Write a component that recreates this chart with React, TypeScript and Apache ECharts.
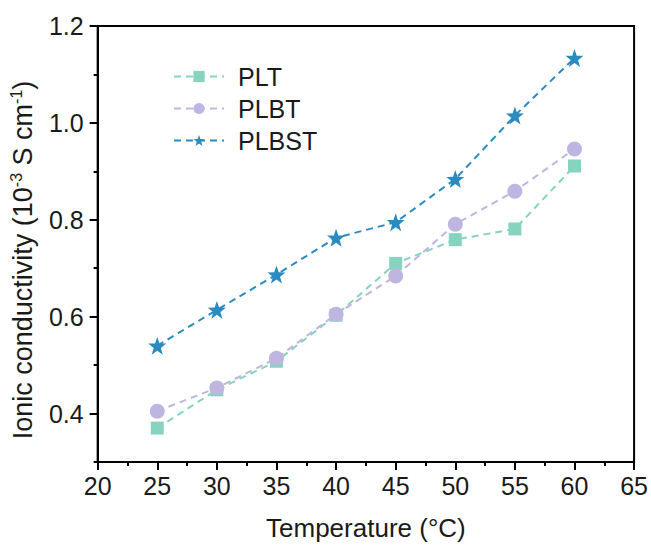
import React, { useEffect, useRef } from "react";
import * as echarts from "echarts";

const temperatures = [25, 30, 35, 40, 45, 50, 55, 60];
const pltValues = [0.37, 0.449, 0.508, 0.603, 0.71, 0.759, 0.781, 0.911];
const plbtValues = [0.405, 0.453, 0.514, 0.605, 0.684, 0.791, 0.859, 0.946];
const plbstValues = [0.54, 0.614, 0.687, 0.763, 0.795, 0.884, 1.015, 1.134];
const seriesNames = ["PLT", "PLBT", "PLBST"];
const yMajorTicks = [0.4, 0.6, 0.8, 1.0, 1.2];

const STAR =
  "path://M100 0 L123.5 67.6 L195.1 69.1 L138 112.4 L158.8 180.9 L100 140 L41.2 180.9 L62 112.4 L4.9 69.1 L76.5 67.6 Z";

const FONT = "'Liberation Sans', Arial, sans-serif";
const TEXT = "#1a1a1a";

export default function App() {
  const ref = useRef<HTMLDivElement>(null);
  useEffect(() => {
    if (!ref.current) return;
    const chart = echarts.init(ref.current, null, { renderer: "svg" });
    const pair = (vals: number[]) => temperatures.map((t, i) => [t, vals[i]]);
    const lineSeries = (name: string, vals: number[], color: string, symbol: string, size: number) => ({
      name,
      type: "line",
      data: pair(vals),
      symbol,
      symbolSize: size,
      showSymbol: true,
      itemStyle: { color, opacity: 1 },
      lineStyle: { color, width: 2, type: [7, 5] },
      z: 3,
    });
    chart.setOption({
      animation: false,
      textStyle: { fontFamily: FONT },
      grid: {
        left: 97,
        right: 15,
        top: 26,
        bottom: 85,
        show: true,
        borderColor: "#000",
        borderWidth: 2,
      },
      legend: {
        orient: "vertical",
        left: 168,
        top: 59,
        itemWidth: 50,
        itemHeight: 14,
        itemGap: 7,
        data: seriesNames,
        textStyle: {
          fontSize: 25,
          color: TEXT,
          fontFamily: FONT,
          padding: [0, 0, 0, 9],
        },
      },
      xAxis: {
        type: "value",
        min: 20,
        max: 65,
        interval: 5,
        name: "Temperature (°C)",
        nameLocation: "middle",
        nameGap: 53,
        nameTextStyle: { fontSize: 26, color: TEXT, fontFamily: FONT },
        axisLine: { show: true, onZero: false, lineStyle: { color: "#000", width: 2 } },
        axisTick: { show: true, inside: false, length: 8, lineStyle: { color: "#000", width: 2 } },
        minorTick: { show: true, splitNumber: 2, length: 4, lineStyle: { color: "#000", width: 2 } },
        axisLabel: { fontSize: 25, color: TEXT, margin: 11, fontFamily: FONT },
        splitLine: { show: false },
      },
      yAxis: [
        {
          type: "value",
          min: 0.3,
          max: 1.2,
          interval: 0.1,
          name: "Ionic conductivity (10{sup|-3} S cm{sup|-1})",
          nameLocation: "middle",
          nameGap: 56,
          nameTextStyle: {
            fontSize: 27,
            color: TEXT,
            fontFamily: FONT,
            lineHeight: 30,
            padding: [0, 32, 0, 0],
            rich: {
              sup: { fontSize: 16, lineHeight: 17, verticalAlign: "top", color: TEXT, fontFamily: FONT },
            },
          },
          axisLine: { show: true, onZero: false, lineStyle: { color: "#000", width: 2 } },
          axisTick: {
            show: true,
            inside: false,
            length: 8,
            customValues: yMajorTicks,
            lineStyle: { color: "#000", width: 2 },
          },
          axisLabel: {
            fontSize: 25,
            color: TEXT,
            margin: 14,
            fontFamily: FONT,
            customValues: yMajorTicks,
            formatter: (v: number) => v.toFixed(1),
          },
          splitLine: { show: false },
        },
        {
          type: "value",
          min: 0.3,
          max: 1.2,
          interval: 0.1,
          position: "left",
          axisLine: { show: false },
          axisTick: { show: true, inside: false, length: 4, lineStyle: { color: "#000", width: 2 } },
          axisLabel: { show: false },
          splitLine: { show: false },
        },
      ],
      series: [
        lineSeries("PLT", pltValues, "#86d4bf", "rect", 13),
        lineSeries("PLBT", plbtValues, "#bfb5e1", "circle", 15),
        lineSeries("PLBST", plbstValues, "#2a8bc0", STAR, 18),
      ],
    });
    return () => chart.dispose();
  }, []);
  return <div ref={ref} style={{ width: 651, height: 547, position: "absolute", left: 0, top: 0 }} />;
}
